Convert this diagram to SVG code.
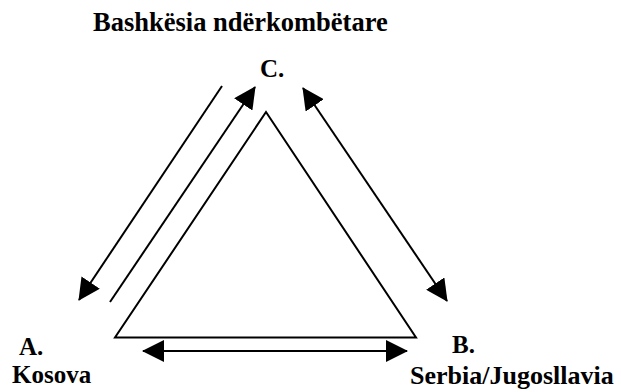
<svg xmlns="http://www.w3.org/2000/svg" width="621" height="392" viewBox="0 0 621 392">
<style>
text{font-family:"Liberation Serif","Times New Roman",serif;font-weight:bold;fill:#000;}
.t{font-size:26.5px;}
.l{font-size:25px;}
.ls{font-size:26px;}
.ln{stroke:#000;stroke-width:2;fill:none;}
</style>
<defs>
<marker id="ah" markerUnits="userSpaceOnUse" markerWidth="22" markerHeight="22" viewBox="0 0 22 22" refX="21" refY="11" orient="auto-start-reverse">
<path d="M0,0 L22,11 L0,22 z" fill="#000"/>
</marker>
</defs>
<rect width="621" height="392" fill="#fff"/>
<g id="title"><text class="t" x="93" y="31">Bashkësia ndërkombëtare</text></g>
<g id="nodeC"><text class="l" x="260" y="77">C.</text></g>
<g id="nodeA"><text class="l" x="19" y="355">A.</text><text class="l" x="12" y="383">Kosova</text></g>
<g id="nodeB"><text class="l" x="452" y="353">B.</text><text class="ls" x="410" y="384">Serbia/Jugosllavia</text></g>
<g id="triangle"><path class="ln" d="M266,112 L115,337.5 L416,337.5 Z" stroke-linejoin="miter"/></g>
<g id="connectors">
<line class="ln" x1="222" y1="86" x2="79" y2="300" marker-end="url(#ah)"/>
<line class="ln" x1="110" y1="302" x2="255" y2="87" marker-end="url(#ah)"/>
<line class="ln" x1="303" y1="88" x2="447" y2="301" marker-start="url(#ah)" marker-end="url(#ah)"/>
<line class="ln" x1="143" y1="351" x2="407" y2="351" marker-start="url(#ah)" marker-end="url(#ah)"/>
</g>
</svg>
